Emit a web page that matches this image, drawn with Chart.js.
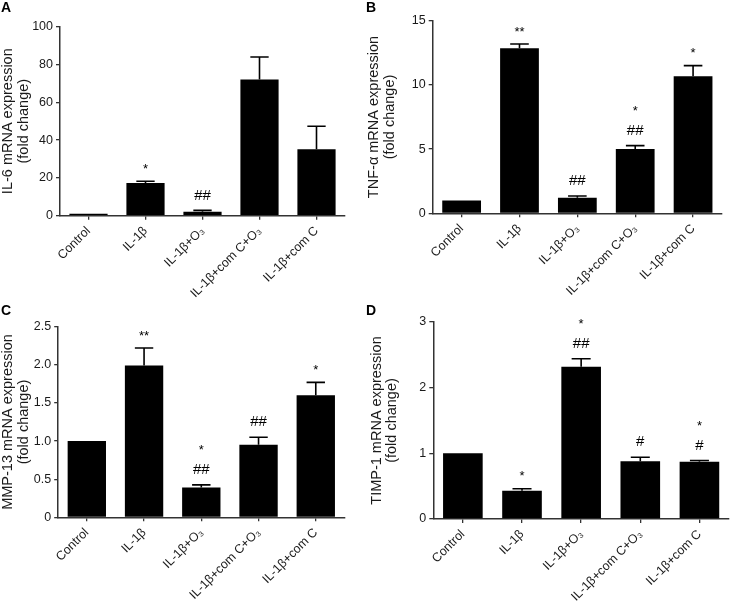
<!DOCTYPE html>
<html lang="en">
<head>
  <meta charset="UTF-8">
  <title>mRNA expression panels</title>
  <script src="https://cdn.jsdelivr.net/npm/chart.js"></script>
  <style>
    * {
      box-sizing: border-box;
      margin: 0;
      padding: 0;
    }

    body {
      width: 730px;
      height: 603px;
      background: #fff;
      position: relative;
      overflow: hidden;
      font-family: 'Liberation Sans', Arial, sans-serif;
    }

    .panel {
      position: absolute;
      width: 365px;
    }

    .panel canvas {
      display: block;
    }

    .letter {
      position: absolute;
      left: 1px;
      top: 0;
      font-size: 14px;
      font-weight: bold;
      color: #000;
      line-height: 14px;
    }
  </style>
</head>
<body>
  <div class="panel" style="left:0;top:0;height:300px">
    <canvas id="chartA" width="365" height="300"></canvas>
    <div class="letter">A</div>
  </div>
  <div class="panel" style="left:365px;top:0;height:300px">
    <canvas id="chartB" width="365" height="300"></canvas>
    <div class="letter">B</div>
  </div>
  <div class="panel" style="left:0;top:300px;height:303px">
    <canvas id="chartC" width="365" height="303"></canvas>
    <div class="letter" style="top:3px">C</div>
  </div>
  <div class="panel" style="left:365px;top:300px;height:303px">
    <canvas id="chartD" width="365" height="303"></canvas>
    <div class="letter" style="top:3px">D</div>
  </div>

  <script>
    // groups (same for all four panels)
    const categories = ['Control', 'IL-1β', 'IL-1β+O₃', 'IL-1β+com C+O₃', 'IL-1β+com C'];

    // A: IL-6
    const il6Mean = [1, 17.3, 2.1, 72.1, 35.1];
    const il6Err = [0, 0.9, 0.7, 11.9, 12.2];
    const il6Marks = [[], ['*'], ['##'], [], []];
    const il6Ticks = [0, 20, 40, 60, 80, 100];
    const il6TickLabels = ['0', '20', '40', '60', '80', '100'];

    // B: TNF-alpha
    const tnfMean = [1, 12.85, 1.22, 5.01, 10.67];
    const tnfErr = [0, 0.34, 0.13, 0.26, 0.83];
    const tnfMarks = [[], ['**'], ['##'], ['*', '##'], ['*']];
    const tnfTicks = [0, 5, 10, 15];
    const tnfTickLabels = ['0', '5', '10', '15'];

    // C: MMP-13
    const mmpMean = [1, 1.99, 0.39, 0.95, 1.6];
    const mmpErr = [0, 0.23, 0.035, 0.1, 0.17];
    const mmpMarks = [[], ['**'], ['*', '##'], ['##'], ['*']];
    const mmpTicks = [0, 0.5, 1, 1.5, 2, 2.5];
    const mmpTickLabels = ['0', '0.5', '1.0', '1.5', '2.0', '2.5'];

    // D: TIMP-1
    const timpMean = [1, 0.43, 2.32, 0.88, 0.87];
    const timpErr = [0, 0.03, 0.12, 0.06, 0.02];
    const timpMarks = [[], ['*'], ['*', '##'], ['#'], ['*', '#']];
    const timpTicks = [0, 1, 2, 3];
    const timpTickLabels = ['0', '1', '2', '3'];

    const FONT = "'Liberation Sans', Arial, sans-serif";
    const AXIS = '#333';
    const TEXT = '#1a1a1a';

    // error bars (upper only) and significance marks
    const errorBars = {
      id: 'errorBars',
      afterDatasetsDraw(chart) {
        const ctx = chart.ctx;
        const y = chart.scales.y;
        const ds = chart.data.datasets[0];
        const meta = chart.getDatasetMeta(0);
        ctx.save();
        meta.data.forEach((bar, i) => {
          const err = ds.errors[i];
          const top = y.getPixelForValue(ds.data[i] + err);
          if (err > 0) {
            const cap = bar.width * 0.24;
            ctx.strokeStyle = '#000';
            ctx.lineWidth = 1.6;
            ctx.beginPath();
            ctx.moveTo(bar.x, bar.y);
            ctx.lineTo(bar.x, top);
            ctx.moveTo(bar.x - cap, top);
            ctx.lineTo(bar.x + cap, top);
            ctx.stroke();
          }
          const marks = ds.marks[i];
          ctx.fillStyle = '#000';
          ctx.textAlign = 'center';
          ctx.textBaseline = 'middle';
          marks.forEach((m, k) => {
            const level = marks.length - 1 - k;
            let cy = top - 15 - level * 22;
            if (m.includes('*')) {
              ctx.font = '13px ' + FONT;
              cy += 3;
            } else {
              ctx.font = '15px ' + FONT;
            }
            ctx.fillText(m, bar.x, cy);
          });
        });
        ctx.restore();
      }
    };

    function makePanel(id, means, errs, marks, ticks, tickLabels, title, box) {
      new Chart(document.getElementById(id), {
        type: 'bar',
        data: {
          labels: categories,
          datasets: [{
            data: means,
            errors: errs,
            marks: marks,
            backgroundColor: '#000',
            borderWidth: 0,
            barPercentage: 0.67,
            categoryPercentage: 1
          }]
        },
        options: {
          responsive: false,
          animation: false,
          layout: { padding: { top: box.top, right: box.right, left: 0, bottom: 0 } },
          plugins: { legend: { display: false }, tooltip: { enabled: false } },
          scales: {
            x: {
              grid: { drawOnChartArea: false, offset: false, tickLength: 4, color: AXIS, lineWidth: 1.3 },
              border: { color: AXIS, width: 1.5 },
              ticks: {
                minRotation: 45, maxRotation: 45, autoSkip: false,
                color: TEXT, font: { family: FONT, size: 12.5 }, padding: 4
              },
              afterFit: s => { s.height = box.xh; }
            },
            y: {
              min: 0,
              max: ticks[ticks.length - 1],
              grid: { drawOnChartArea: false, tickLength: 4, color: AXIS, lineWidth: 1.3 },
              border: { color: AXIS, width: 1.5 },
              ticks: {
                color: TEXT, font: { family: FONT, size: 12.5 }, padding: 3,
                callback: (v, i) => tickLabels[i]
              },
              afterBuildTicks: s => { s.ticks = ticks.map(v => ({ value: v })); },
              afterFit: s => { s.width = box.yw; },
              title: {
                display: true,
                text: title,
                color: TEXT,
                font: { family: FONT, size: 14.5, lineHeight: 1.06 },
                padding: { top: box.tp, bottom: 0 }
              }
            }
          }
        },
        plugins: [errorBars]
      });
    }

    makePanel('chartA', il6Mean, il6Err, il6Marks, il6Ticks, il6TickLabels,
      ['IL-6 mRNA expression', '(fold change)'],
      { top: 26.7, right: 20, xh: 84.3, yw: 60, tp: 0.8 });
    makePanel('chartB', tnfMean, tnfErr, tnfMarks, tnfTicks, tnfTickLabels,
      ['TNF-α mRNA expression', '(fold change)'],
      { top: 20.7, right: 8, xh: 86.7, yw: 67.7, tp: 1.5 });
    makePanel('chartC', mmpMean, mmpErr, mmpMarks, mmpTicks, mmpTickLabels,
      ['MMP-13 mRNA expression', '(fold change)'],
      { top: 26.7, right: 20.6, xh: 85.7, yw: 58.2, tp: 0.8 });
    makePanel('chartD', timpMean, timpErr, timpMarks, timpTicks, timpTickLabels,
      ['TIMP-1 mRNA expression', '(fold change)'],
      { top: 22, right: 1, xh: 84, yw: 68.3, tp: 4 });
  </script>
</body>
</html>
